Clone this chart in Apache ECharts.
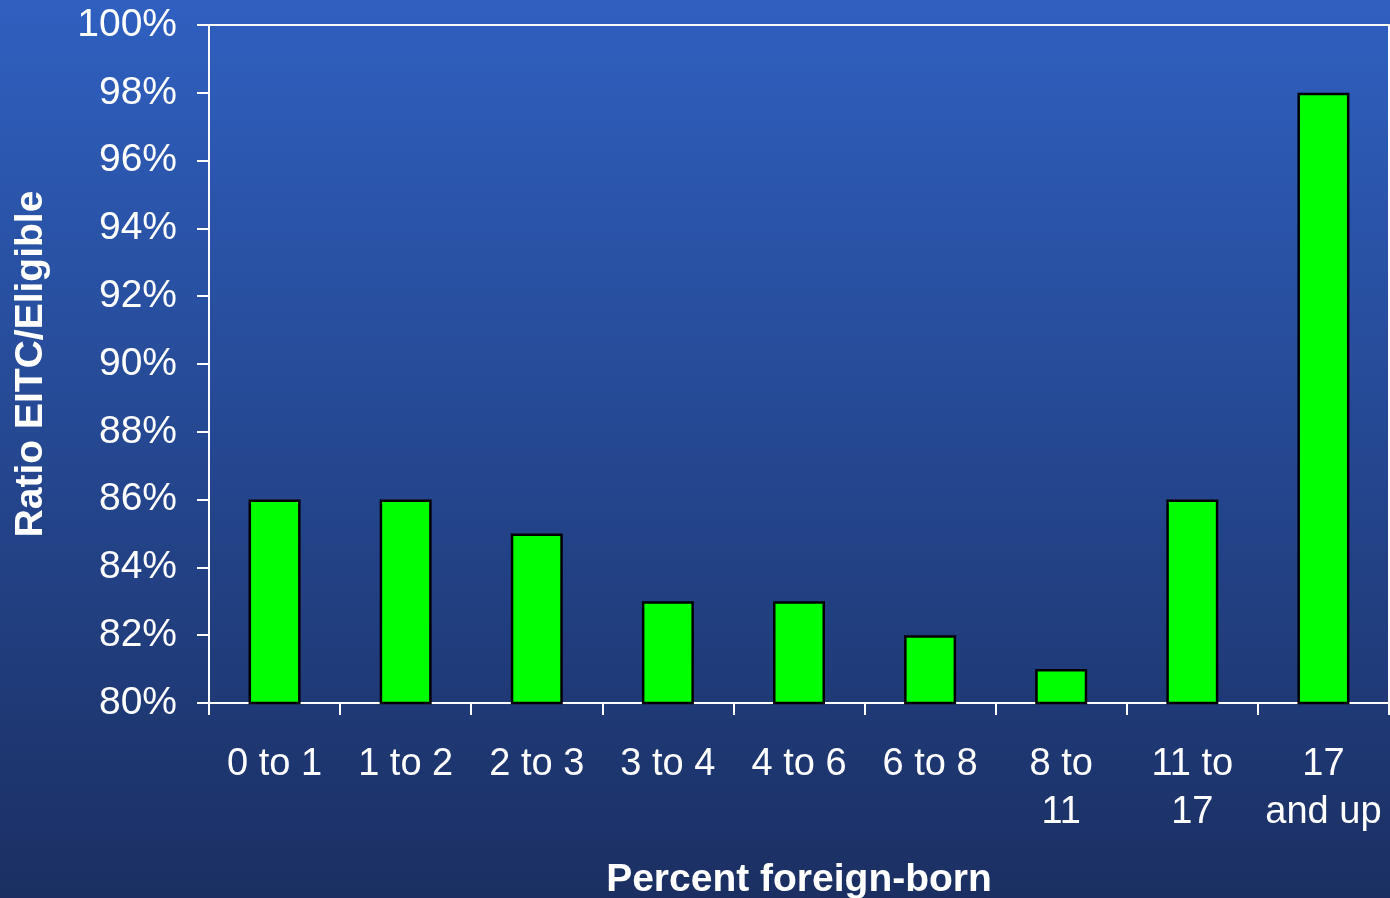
<!DOCTYPE html>
<html>
<head>
<meta charset="utf-8">
<script src="https://cdn.jsdelivr.net/npm/echarts@6/dist/echarts.min.js"></script>
<style>
  html, body { margin: 0; padding: 0; }
  #chart { width: 1390px; height: 898px; }
</style>
</head>
<body>
<div id="chart"></div>
<script>
// Share of eligible filers claiming the EITC, by percent foreign-born
const categories = ['0 to 1', '1 to 2', '2 to 3', '3 to 4', '4 to 6', '6 to 8', '8 to\n11', '11 to\n17', '17\nand up'];
const ratioValues = [86, 86, 85, 83, 83, 82, 81, 86, 98];
const yMin = 80;
const yMax = 100;
const yStep = 2;

const FONT = '"Liberation Sans", Arial, sans-serif';
const chart = echarts.init(document.getElementById('chart'));

chart.setOption({
  backgroundColor: {
    type: 'linear', x: 0, y: 0, x2: 0, y2: 1,
    colorStops: [
      { offset: 0, color: '#2f60c0' },
      { offset: 1, color: '#1b2f62' }
    ]
  },
  animation: false,
  grid: { left: 209, top: 25, right: 1, bottom: 195, containLabel: false, outerBoundsMode: 'none' },
  xAxis: [
    {
      type: 'category',
      data: categories,
      position: 'bottom',
      axisLine: { lineStyle: { color: '#ffffff', width: 2 } },
      axisTick: { show: true, length: 12, alignWithLabel: false, lineStyle: { color: '#ffffff', width: 2 } },
      axisLabel: {
        color: '#ffffff', fontFamily: FONT, fontSize: 38, lineHeight: 48,
        margin: 38, interval: 0
      },
      name: 'Percent foreign-born',
      nameLocation: 'middle',
      nameGap: 158,
      nameTextStyle: { color: '#ffffff', fontFamily: FONT, fontSize: 39, fontWeight: 'bold' }
    },
    {
      type: 'category',
      data: categories,
      position: 'top',
      axisLine: { lineStyle: { color: '#ffffff', width: 2 } },
      axisTick: { show: false },
      axisLabel: { show: false }
    }
  ],
  yAxis: [
    {
      type: 'value',
      min: yMin, max: yMax, interval: yStep,
      axisLine: { show: true, lineStyle: { color: '#ffffff', width: 2 } },
      axisTick: { show: true, length: 12, lineStyle: { color: '#ffffff', width: 2 } },
      splitLine: { show: false },
      axisLabel: {
        color: '#ffffff', fontFamily: FONT, fontSize: 39, margin: 32,
        formatter: v => v + '%'
      },
      name: 'Ratio EITC/Eligible',
      nameLocation: 'middle',
      nameGap: 158,
      nameTextStyle: { color: '#ffffff', fontFamily: FONT, fontSize: 39, fontWeight: 'bold' }
    },
    {
      type: 'value',
      min: yMin, max: yMax, interval: yStep,
      position: 'right',
      axisLine: { show: true, lineStyle: { color: '#ffffff', width: 2 } },
      axisTick: { show: false },
      axisLabel: { show: false },
      splitLine: { show: false }
    }
  ],
  series: [{
    type: 'bar',
    data: ratioValues,
    barWidth: 52,
    itemStyle: { color: '#00ff00', borderColor: '#000000', borderWidth: 2.5 }
  }]
});
</script>
</body>
</html>
